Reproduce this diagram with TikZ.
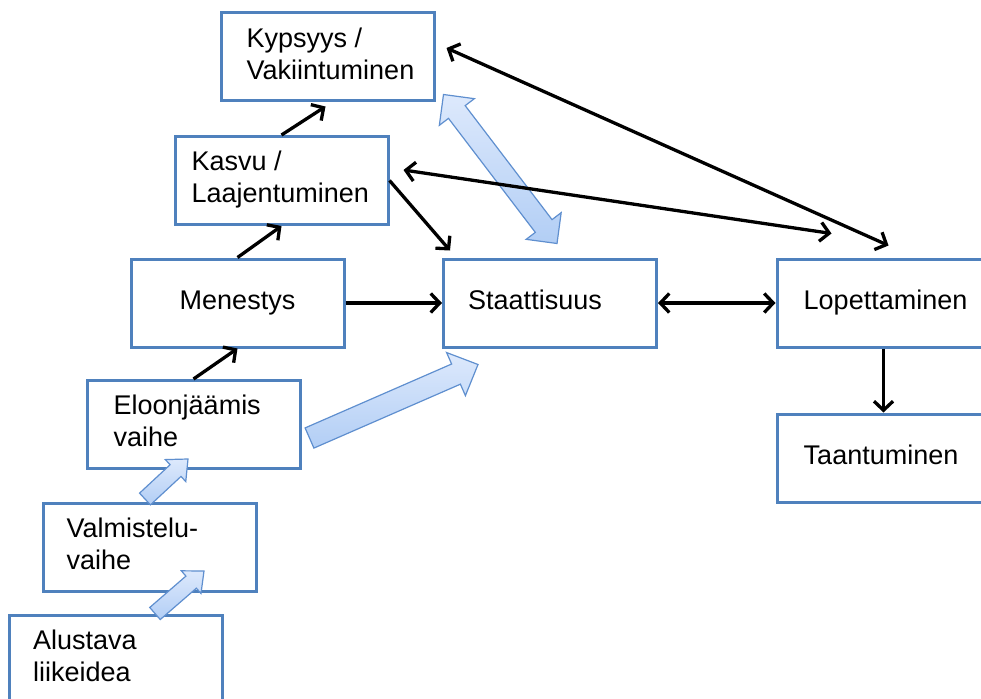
\documentclass[tikz,border=0pt]{standalone}
\usepackage{fontspec}
\setmainfont{Liberation Sans}
\usetikzlibrary{arrows.meta,calc}

\definecolor{boxblue}{HTML}{4F81BD}
\definecolor{arrowedge}{HTML}{5F8FCF}
\definecolor{arrowlight}{HTML}{DDE9FC}
\definecolor{arrowdark}{HTML}{B2CEF5}

% Block arrow from #1 (tail) to #2 (tip): shaft half width #3,
% head half width #4, head length #5
\newcommand\blockone[5]{%
  \coordinate (ba-h) at ($(#2)!#5!(#1)$);
  \path[blockarrow] ($(#1)!#3!90:(#2)$) -- ($(ba-h)!#3!90:(#2)$)
    -- ($(ba-h)!#4!90:(#2)$) -- (#2) -- ($(ba-h)!#4!-90:(#2)$)
    -- ($(ba-h)!#3!-90:(#2)$) -- ($(#1)!#3!-90:(#2)$) -- cycle;
}
% Double-headed block arrow between tips #1 and #2
\newcommand\blocktwo[5]{%
  \coordinate (bb-h1) at ($(#2)!#5!(#1)$);
  \coordinate (bb-h2) at ($(#1)!#5!(#2)$);
  \path[blockarrow] (#2) -- ($(bb-h1)!#4!90:(#2)$) -- ($(bb-h1)!#3!90:(#2)$)
    -- ($(bb-h2)!#3!90:(#2)$) -- ($(bb-h2)!#4!90:(#2)$) -- (#1)
    -- ($(bb-h2)!#4!-90:(#2)$) -- ($(bb-h2)!#3!-90:(#2)$)
    -- ($(bb-h1)!#3!-90:(#2)$) -- ($(bb-h1)!#4!-90:(#2)$) -- cycle;
}

\begin{document}
\begin{tikzpicture}[x=1pt,y=-1pt,
  stage/.style={draw=boxblue, line width=3pt, minimum width=213pt,
    minimum height=88pt, inner sep=0pt, fill=white},
  lbl/.style={font=\fontsize{27}{32}\selectfont, align=left,
    inner sep=0pt, anchor=west},
  barb/.tip={Straight Barb[length=9pt,width=19pt]},
  link/.style={line width=3.3pt, -barb},
  twolink/.style={line width=3.3pt, barb-barb},
  blockarrow/.style={draw=arrowedge, line width=1.2pt, line join=miter,
    top color=arrowlight, bottom color=arrowdark}
]
\useasboundingbox (0,0) rectangle (981,698);
\clip (0,0) rectangle (981,698);

% stages
\node[stage] (kyp) at (327.5,57)   {};
\node[stage] (kas) at (281.5,180.5) {};
\node[stage] (men) at (237.5,303)  {};
\node[stage] (sta) at (550,303)    {};
\node[stage] (lop) at (883.5,303)  {};
\node[stage] (taa) at (883.5,458)  {};
\node[stage] (elo) at (193.5,424.5) {};
\node[stage] (val) at (149.5,547.5) {};
\node[stage] (alu) at (116,659)    {};

% block arrows
\coordinate (a1-tail) at ($(alu.north)+(39,0)$);
\coordinate (a1-tip)  at ($(val.south)+(54.5,-22)$);
\blockone{a1-tail}{a1-tip}{8pt}{15pt}{17pt}
\coordinate (a2-tail) at ($(val.north)+(-4.5,-3)$);
\coordinate (a2-tip)  at ($(elo.south)+(-5.5,-11)$);
\blockone{a2-tail}{a2-tip}{8pt}{15pt}{17pt}
\coordinate (a3-tail) at ($(elo.east)+(8,13.5)$);
\coordinate (a3-tip)  at ($(sta.south west)+(36,16)$);
\blockone{a3-tail}{a3-tip}{11pt}{23.5pt}{24pt}
\coordinate (a4-top) at ($(kyp.south east)+(8,-8)$);
\coordinate (a4-bot) at ($(sta.north)+(7,-14)$);
\blocktwo{a4-top}{a4-bot}{10.5pt}{22pt}{22pt}

% connectors
\draw[link] (kas.north) -- ($(kyp.south)+(-2,4)$);
\draw[link] (men.north) -- (kas.south);
\draw[link] (elo.north) -- (men.south);
\draw[link] (men.east) -- (sta.west);
\draw[link] (kas.east) -- ($(sta.north west)+(8,-7)$);
\draw[twolink] (sta.east) -- (lop.west);
\draw[link] (lop.south) -- (taa.north);
\draw[twolink] ($(kyp.east)+(11,-9)$) -- ($(lop.north)+(5,-12)$);
\draw[twolink] ($(kas.east)+(14,-10.5)$) -- ($(lop.north west)+(56,-24)$);

% labels
\node[lbl] (kyp-t) at ($(kyp.west)+(27,0)$) {\strut Kypsyys /\\\strut Vakiintuminen};
\node[lbl] (kas-t) at ($(kas.west)+(18,0)$) {\strut Kasvu /\\\strut Laajentuminen};
\node[lbl, anchor=center] (men-t) at (men) {\strut Menestys};
\node[lbl] (sta-t) at ($(sta.west)+(26,0)$) {\strut Staattisuus};
\node[lbl] (lop-t) at ($(lop.west)+(28,0)$) {\strut Lopettaminen};
\node[lbl] (taa-t) at ($(taa.west)+(28,0)$) {\strut Taantuminen};
\node[lbl] (elo-t) at ($(elo.west)+(28,0)$) {\strut Eloonjäämis\\\strut vaihe};
\node[lbl] (val-t) at ($(val.west)+(25,0)$) {\strut Valmistelu-\\\strut vaihe};
\node[lbl] (alu-t) at ($(alu.west)+(25,0)$) {\strut Alustava\\\strut liikeidea};
\end{tikzpicture}
\end{document}
